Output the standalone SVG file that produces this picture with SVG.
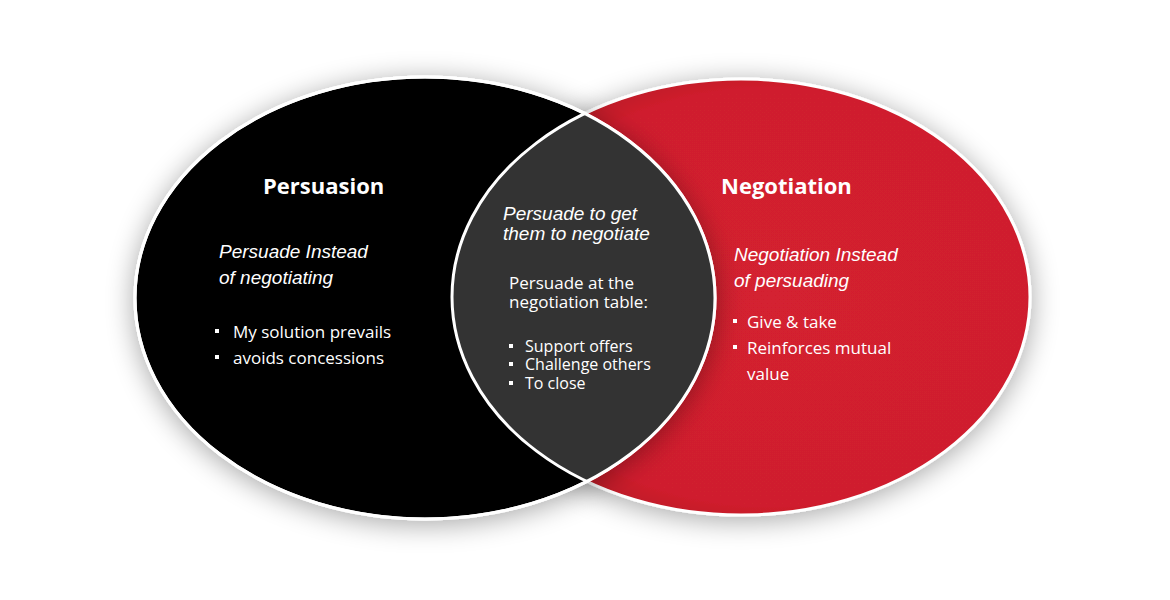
<svg xmlns="http://www.w3.org/2000/svg" width="1170" height="600" viewBox="0 0 1170 600">
<defs>
<filter id="sh" x="-20%" y="-20%" width="140%" height="140%"><feGaussianBlur in="SourceAlpha" stdDeviation="14"/><feOffset dy="4"/><feComponentTransfer><feFuncA type="linear" slope="0.35"/></feComponentTransfer><feMerge><feMergeNode/><feMergeNode in="SourceGraphic"/></feMerge></filter>
<radialGradient id="rg" cx="0.55" cy="0.5" r="0.6"><stop offset="0" stop-color="#d42030"/><stop offset="0.8" stop-color="#cf1f2d"/><stop offset="1" stop-color="#a8141f"/></radialGradient>
<clipPath id="cl"><ellipse cx="425" cy="298" rx="290" ry="221"/></clipPath>
<style>
.t{font-family:"Open Sans","Liberation Sans",sans-serif;fill:#fff;font-size:17px}
.s{font-size:16px}
.h{font-family:"Open Sans","Liberation Sans",sans-serif;fill:#fff;font-size:22px;font-weight:bold}
.i{font-family:"Liberation Sans",Arial,sans-serif;fill:#fff;font-size:19px;font-style:italic}
.o{stroke:#fff;stroke-width:3}
.b{fill:#fff}
</style>
</defs>
<g id="right" filter="url(#sh)"><ellipse class="o" cx="741" cy="297" rx="289" ry="218" fill="url(#rg)"/></g>
<g id="left" filter="url(#sh)"><ellipse class="o" cx="425" cy="298" rx="290" ry="221" fill="#000"/></g>
<g id="center">
<ellipse cx="741" cy="297" rx="289" ry="218" fill="#333" clip-path="url(#cl)"/>
<g fill="none" class="o"><ellipse cx="741" cy="297" rx="289" ry="218" clip-path="url(#cl)"/><ellipse cx="425" cy="298" rx="290" ry="221"/></g>
<text class="i" x="503" y="220">Persuade to get</text>
<text class="i" x="503" y="240">them to negotiate</text>
<text class="t" x="509" y="289">Persuade at the</text>
<text class="t" x="509" y="308">negotiation table:</text>
<rect class="b" x="509" y="344" width="4" height="4"/><text class="t s" x="525" y="352">Support offers</text>
<rect class="b" x="509" y="362" width="4" height="4"/><text class="t s" x="525" y="370">Challenge others</text>
<rect class="b" x="509" y="381" width="4" height="4"/><text class="t s" x="525" y="389">To close</text>
</g>
<g id="leftText">
<text class="h" x="263" y="194">Persuasion</text>
<text class="i" x="219" y="258">Persuade Instead</text>
<text class="i" x="219" y="284">of negotiating</text>
<rect class="b" x="215" y="329" width="4" height="4"/><text class="t" x="233" y="338">My solution prevails</text>
<rect class="b" x="215" y="355" width="4" height="4"/><text class="t" x="233" y="364">avoids concessions</text>
</g>
<g id="rightText">
<text class="h" x="721" y="194">Negotiation</text>
<text class="i" x="734" y="261">Negotiation Instead</text>
<text class="i" x="734" y="287">of persuading</text>
<rect class="b" x="733" y="319" width="4" height="4"/><text class="t" x="747" y="328">Give &amp; take</text>
<rect class="b" x="733" y="345" width="4" height="4"/><text class="t" x="747" y="354">Reinforces mutual</text>
<text class="t" x="747" y="380">value</text>
</g>
</svg>
